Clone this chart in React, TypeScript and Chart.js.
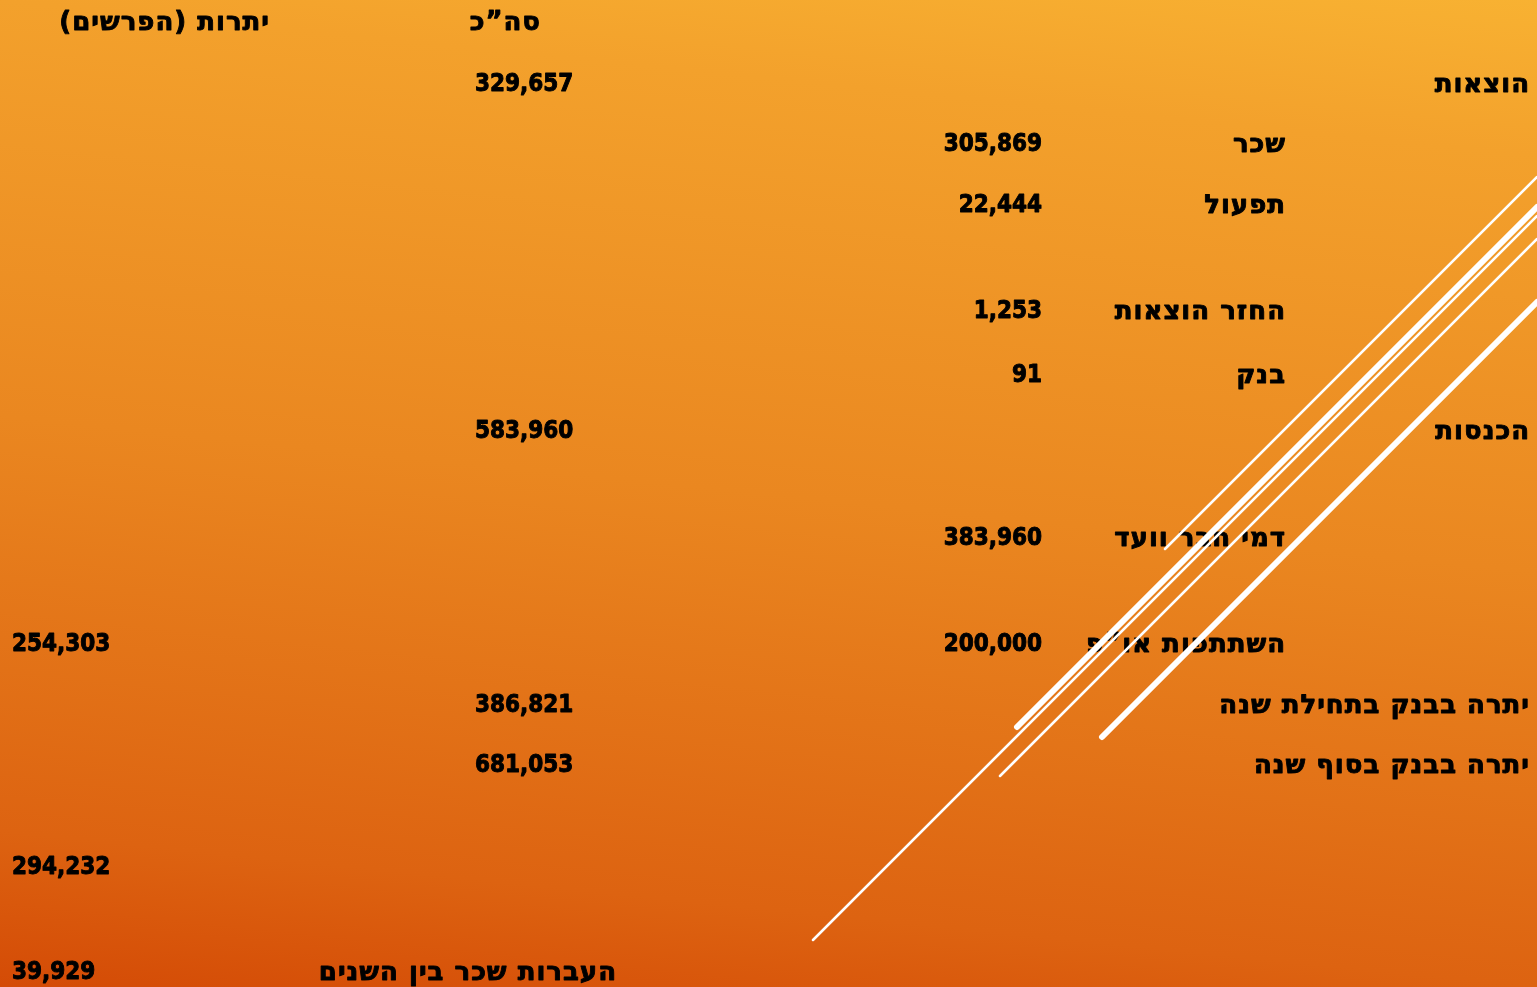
import React, { useEffect, useRef } from "react";
import { Chart, registerables } from "chart.js";

Chart.register(...registerables);

// ---------- data ----------
const headerLabels = ["סה”כ", "יתרות (הפרשים)"];
const sectionLabels = ["הוצאות", "הכנסות", "יתרה בבנק בתחילת שנה", "יתרה בבנק בסוף שנה"];
const sectionTotals = [329657, 583960, 386821, 681053];
const expenseItems = ["שכר", "תפעול", "החזר הוצאות", "בנק"];
const expenseValues = [305869, 22444, 1253, 91];
const incomeItems = ["דמי חבר וועד", "השתתפות או”פ"];
const incomeValues = [383960, 200000];
const balanceValues = [254303, 294232, 39929];
const transferLabel = "העברות שכר בין השנים";

// ---------- layout (page pixel units used by the linear scales) ----------
const W = 1537;
const H = 987;
const colX = {
  sectionLabel: 1530,
  itemLabel: 1286,
  itemValue: 1042,
  total: 475,
  totalHeader: 541,
  balance: 12,
  balanceHeader: 270,
  transfer: 617,
};
const headerRow = 20;
const sectionRows = [82, 429, 703, 763];
const expenseRows = [142, 203, 309, 373];
const incomeRows = [536, 642];
const balanceRows = [642, 865, 970];
const transferRow = 970;

// decorative diagonal strokes: [x0, y0, x1, y1, width]
const strokes: number[][] = [
  [1165, 549, 1537, 177, 2.5],
  [1017, 727, 1537, 207, 6],
  [813, 940, 1537, 216, 2.5],
  [1000, 776, 1537, 239, 2.5],
  [1102, 737, 1537, 302, 6],
];

const fmt = (v: number) => v.toLocaleString("en-US");
const HEB_FONT = "bold 26px 'DejaVu Sans', sans-serif";
const NUM_FONT = "bold 24px 'DejaVu Sans Condensed', 'DejaVu Sans', sans-serif";

function textSet(texts: string[], xs: number[], ys: number[], align: string, rtl: boolean) {
  return {
    type: "scatter",
    label: texts.join("|"),
    texts,
    align,
    rtl,
    data: texts.map((_, i) => ({ x: xs[i], y: ys[i] })),
    pointRadius: 0,
    pointHoverRadius: 0,
    showLine: false,
  } as any;
}

const backgroundPlugin = {
  id: "bgGradient",
  beforeDraw(chart: any) {
    const ctx = chart.ctx;
    const g = ctx.createLinearGradient(0, chart.height, 115, -148);
    g.addColorStop(0, "#D44B06");
    g.addColorStop(0.136, "#DD6311");
    g.addColorStop(0.498, "#EA8720");
    g.addColorStop(0.861, "#F3A12C");
    g.addColorStop(1, "#F8B232");
    ctx.save();
    ctx.fillStyle = g;
    ctx.fillRect(0, 0, chart.width, chart.height);
    ctx.restore();
  },
};

const textPlugin = {
  id: "tableText",
  beforeDatasetsDraw(chart: any) {
    const ctx = chart.ctx;
    chart.data.datasets.forEach((ds: any, i: number) => {
      if (!ds.texts) return;
      const meta = chart.getDatasetMeta(i);
      meta.data.forEach((pt: any, j: number) => {
        ctx.save();
        ctx.font = ds.rtl ? HEB_FONT : NUM_FONT;
        (ctx as any).letterSpacing = ds.rtl ? "1px" : "0px";
        ctx.fillStyle = "#000";
        ctx.strokeStyle = "#000";
        ctx.lineWidth = 0.9;
        ctx.lineJoin = "round";
        ctx.textBaseline = "alphabetic";
        ctx.direction = ds.rtl ? "rtl" : "ltr";
        ctx.textAlign = ds.align;
        const y = pt.y + (ds.rtl ? 10 : 9);
        ctx.fillText(ds.texts[j], pt.x, y);
        ctx.strokeText(ds.texts[j], pt.x, y);
        ctx.restore();
      });
    });
  },
};

export default function App() {
  const ref = useRef<HTMLCanvasElement | null>(null);

  useEffect(() => {
    if (!ref.current) return;
    const datasets: any[] = [
      textSet(headerLabels, [colX.totalHeader, colX.balanceHeader], [headerRow, headerRow], "right", true),
      textSet(sectionLabels, sectionLabels.map(() => colX.sectionLabel), sectionRows, "right", true),
      textSet(sectionTotals.map(fmt), sectionTotals.map(() => colX.total), sectionRows, "left", false),
      textSet(expenseItems, expenseItems.map(() => colX.itemLabel), expenseRows, "right", true),
      textSet(expenseValues.map(fmt), expenseValues.map(() => colX.itemValue), expenseRows, "right", false),
      textSet(incomeItems, incomeItems.map(() => colX.itemLabel), incomeRows, "right", true),
      textSet(incomeValues.map(fmt), incomeValues.map(() => colX.itemValue), incomeRows, "right", false),
      textSet(balanceValues.map(fmt), balanceValues.map(() => colX.balance), balanceRows, "left", false),
      textSet([transferLabel], [colX.transfer], [transferRow], "right", true),
      ...strokes.map((s, k) => ({
        type: "line",
        label: "stroke" + k,
        data: [
          { x: s[0], y: s[1] },
          { x: s[2], y: s[3] },
        ],
        borderColor: "#FFFFFF",
        borderWidth: s[4],
        borderCapStyle: "round",
        pointRadius: 0,
        pointHoverRadius: 0,
        fill: false,
        tension: 0,
      })),
    ];

    const chart = new Chart(ref.current, {
      type: "scatter",
      data: { datasets },
      options: {
        animation: false,
        responsive: false,
        maintainAspectRatio: false,
        events: [],
        layout: { padding: 0 },
        plugins: { legend: { display: false }, tooltip: { enabled: false }, title: { display: false } },
        scales: {
          x: { type: "linear", min: 0, max: W, display: false },
          y: { type: "linear", min: 0, max: H, reverse: true, display: false },
        },
      } as any,
      plugins: [backgroundPlugin, textPlugin],
    });
    return () => chart.destroy();
  }, []);

  return (
    <div style={{ position: "fixed", left: 0, top: 0, width: W, height: H, overflow: "hidden" }}>
      <canvas ref={ref} width={W} height={H} style={{ display: "block", width: W, height: H }} />
    </div>
  );
}
